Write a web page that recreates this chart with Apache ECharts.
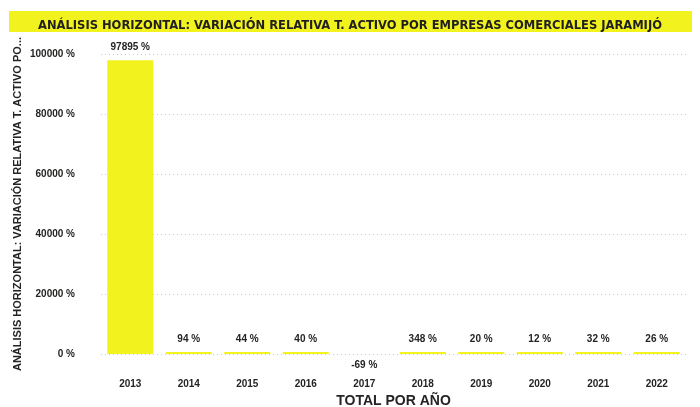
<!DOCTYPE html>
<html>
<head>
<meta charset="utf-8">
<script src="https://cdn.jsdelivr.net/npm/echarts@6/dist/echarts.min.js"></script>
<style>
  html, body { margin: 0; padding: 0; background: #fff; }
  #main { width: 700px; height: 407px; }
</style>
</head>
<body>
<div id="main"></div>
<script>
var years = ['2013', '2014', '2015', '2016', '2017', '2018', '2019', '2020', '2021', '2022'];
var variacion = [97895, 94, 44, 40, -69, 348, 20, 12, 32, 26];
var yTicks = [0, 20000, 40000, 60000, 80000, 100000];

var chart = echarts.init(document.getElementById('main'));
var txt = '#252423';
var narrow = "'Liberation Sans Narrow', 'DejaVu Sans Condensed', sans-serif";

var option = {
    animation: false,
    graphic: [{
        type: 'rect',
        shape: { x: 9, y: 11, width: 683, height: 21 },
        style: { fill: '#f2f21f' },
        z: 0
    }],
    title: {
        text: 'ANÁLISIS HORIZONTAL: VARIACIÓN RELATIVA T. ACTIVO POR EMPRESAS COMERCIALES JARAMIJÓ',
        left: 'center',
        top: 14,
        textStyle: {
            fontFamily: narrow,
            fontWeight: 'bold',
            fontSize: 12.8,
            color: '#1f1f1f'
        }
    },
    grid: {
        left: 101,
        right: 14,
        top: 54,
        bottom: 53,
        outerBoundsMode: 'none',
        containLabel: false
    },
    xAxis: {
        type: 'category',
        data: years,
        name: 'TOTAL POR AÑO',
        nameLocation: 'middle',
        nameGap: 38,
        nameTextStyle: {
            fontFamily: 'Liberation Sans',
            fontWeight: 'bold',
            fontSize: 14,
            color: txt
        },
        axisLine: { show: false },
        axisTick: { show: false },
        axisLabel: {
            margin: 25,
            fontFamily: 'Liberation Sans',
            fontWeight: 'bold',
            fontSize: 10,
            color: txt
        }
    },
    yAxis: {
        type: 'value',
        min: 0,
        max: 100000,
        interval: 20000,
        name: 'ANÁLISIS HORIZONTAL: VARIACIÓN RELATIVA T. ACTIVO PO...',
        nameLocation: 'middle',
        nameGap: 78,
        nameMoveOverlap: false,
        nameTextStyle: {
            fontFamily: 'Liberation Sans',
            fontWeight: 'bold',
            fontSize: 11,
            color: txt
        },
        axisLabel: {
            margin: 26,
            fontFamily: 'Liberation Sans',
            fontWeight: 'bold',
            fontSize: 10,
            color: txt,
            formatter: function(v) { return yTicks.indexOf(v) >= 0 ? v + ' %' : ''; }
        },
        splitLine: {
            lineStyle: { color: '#c8c8c8', type: [1, 3], width: 1 }
        }
    },
    series: [{
        type: 'bar',
        barWidth: 46,
        barMinHeight: 2,
        itemStyle: { color: '#f2f21f' },
        label: {
            show: true,
            position: 'top',
            distance: 8,
            fontFamily: 'Liberation Sans',
            fontWeight: 'bold',
            fontSize: 10,
            color: txt,
            formatter: function(p) { return p.value + ' %'; }
        },
        // negative values get their label below the bar
        data: variacion.map(function(v) {
            if (v < 0) {
                return { value: v, label: { position: 'bottom', distance: 6 } };
            }
            return v;
        })
    }]
};

chart.setOption(option);
</script>
</body>
</html>
